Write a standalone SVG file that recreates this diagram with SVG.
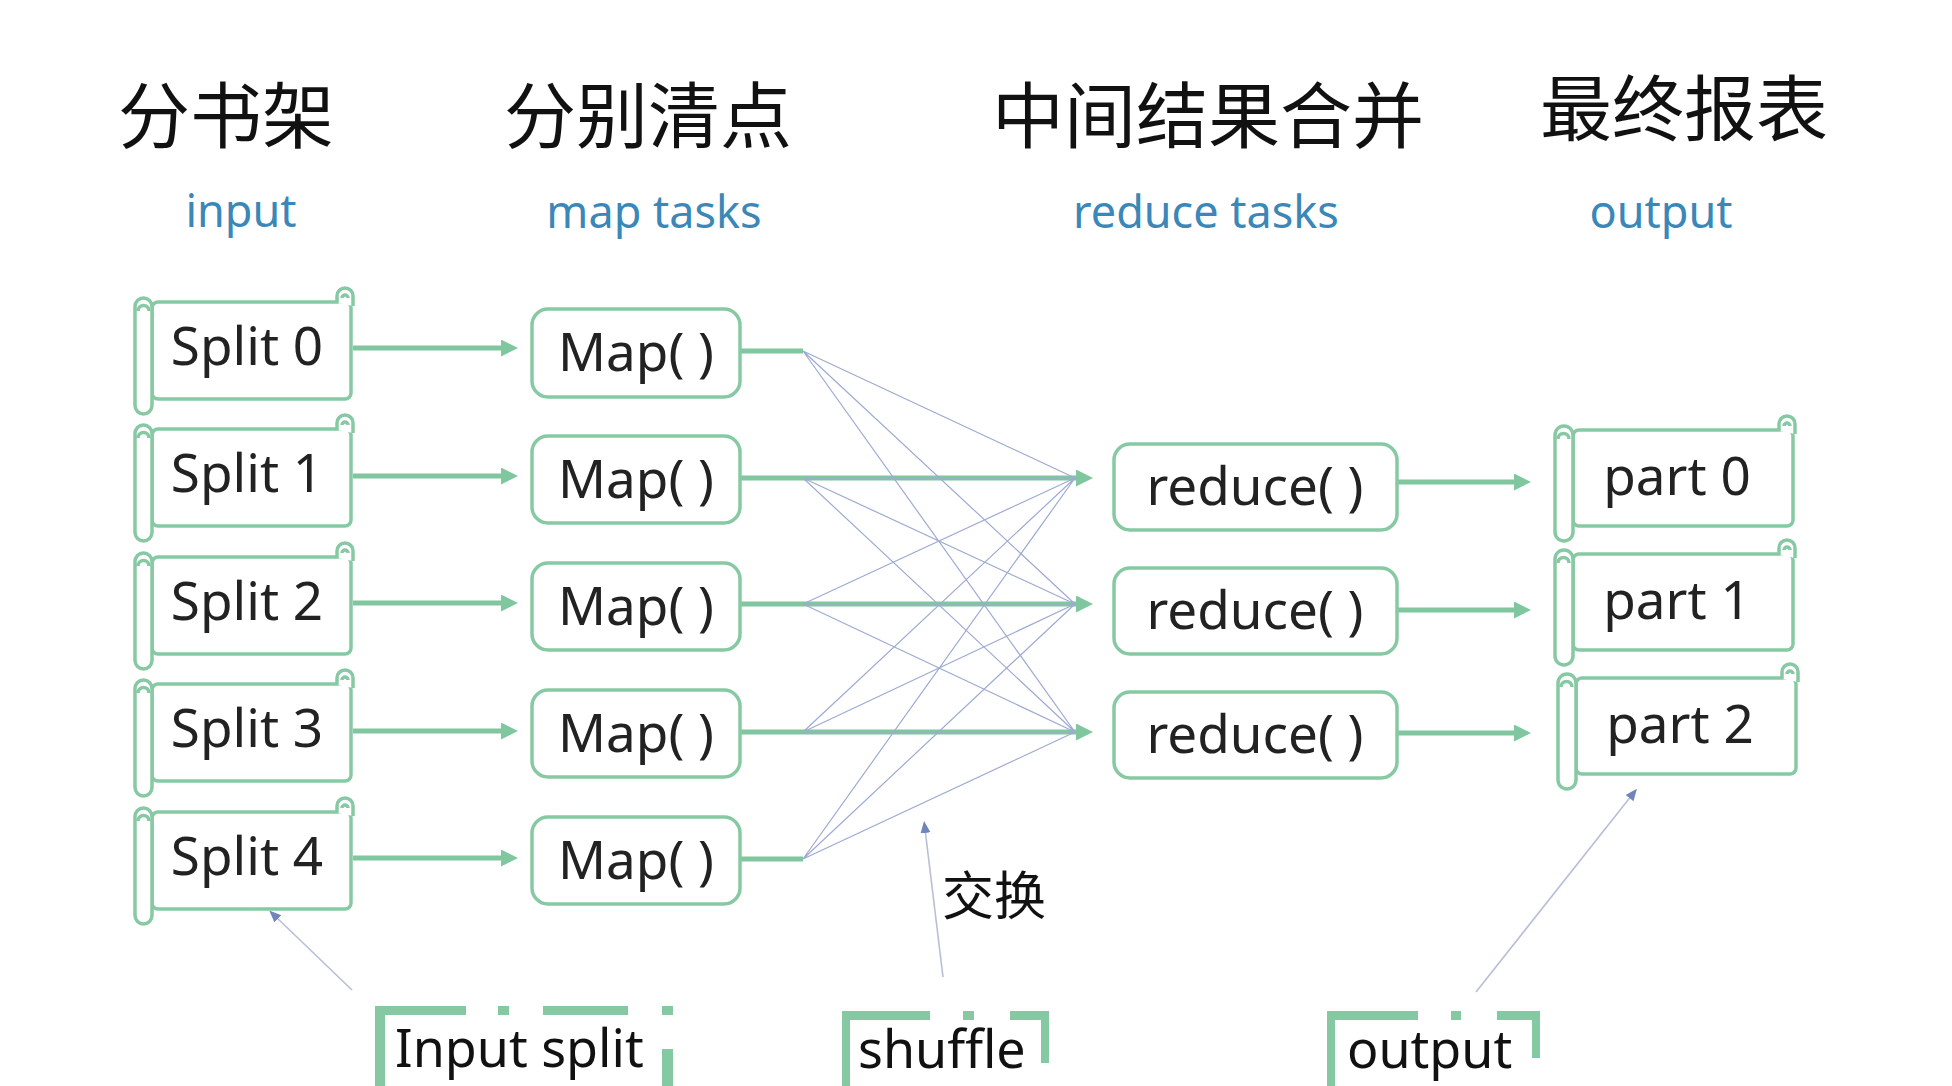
<svg xmlns="http://www.w3.org/2000/svg" xmlns:xlink="http://www.w3.org/1999/xlink" width="1952" height="1086" viewBox="0 0 1952 1086">
<style>
.bg{fill:#ffffff}
.box{fill:#ffffff;stroke:#86c9a3;stroke-width:3.5}
.line{fill:none;stroke:#86c9a3;stroke-width:3.5}
.lbl{font-family:"Noto Sans","Open Sans",sans-serif;font-size:53px;fill:#222222;text-anchor:middle}
.title{font-family:"Noto Sans CJK SC","Noto Sans CJK JP",sans-serif;font-size:72px;fill:#111111;text-anchor:middle}
.sub{font-family:"Noto Sans","Open Sans",sans-serif;font-size:45px;fill:#3a87b8;text-anchor:middle}
.flow{fill:none;stroke:#80c69e;stroke-width:5}
.thin{fill:none;stroke:#9eaad2;stroke-width:1.2}
.note{fill:none;stroke:#b9bed8;stroke-width:1.6}
.frame{fill:#84c9a2}
.btxt{font-family:"Noto Sans","Open Sans",sans-serif;font-size:52px;fill:#111111}
.cjk{font-family:"Noto Sans CJK SC","Noto Sans CJK JP",sans-serif;font-size:52px;fill:#111111}
</style>
<defs>
<marker id="ah" markerUnits="userSpaceOnUse" markerWidth="18" markerHeight="18" refX="7" refY="8.5" orient="auto">
<path d="M0,0 L17,8.5 L0,17 Z" fill="#80c69e"/>
</marker>
<marker id="ahs" markerUnits="userSpaceOnUse" markerWidth="14" markerHeight="12" refX="4" refY="5" orient="auto">
<path d="M0,0 L12,5 L0,10 Z" fill="#6f85bb"/>
</marker>
<g id="scrollS">
<rect class="box" x="0" y="0" width="199" height="97" rx="6"/>
<path class="box" d="M185,1 V-6 A8,8 0 0 1 201,-6 V4"/>
<path class="line" d="M190,-4 A3,3 0 0 1 196,-4"/>
<rect class="box" x="-17" y="-4" width="17" height="116" rx="8.5"/>
<path class="line" d="M-14,9 A5,5 0 0 1 -3,9"/>
</g>
<g id="scrollP">
<rect class="box" x="0" y="0" width="220" height="96" rx="6"/>
<path class="box" d="M206,1 V-6 A8,8 0 0 1 222,-6 V4"/>
<path class="line" d="M211,-4 A3,3 0 0 1 217,-4"/>
<rect class="box" x="-18" y="-4" width="18" height="115" rx="9"/>
<path class="line" d="M-15,9 A5,5 0 0 1 -4,9"/>
</g>
</defs>
<rect class="bg" x="0" y="0" width="1952" height="1086"/>

<g id="headers">
<text class="title" x="226" y="142">分书架</text>
<text class="title" x="648" y="142">分别清点</text>
<text class="title" x="1208" y="142">中间结果合并</text>
<text class="title" x="1684" y="135">最终报表</text>
<text class="sub" x="241" y="227">input</text>
<text class="sub" x="654" y="228">map tasks</text>
<text class="sub" x="1206" y="228">reduce tasks</text>
<text class="sub" x="1661" y="228">output</text>
</g>

<g id="connectors">
<line class="flow" x1="353" y1="348" x2="508" y2="348" marker-end="url(#ah)"/>
<line class="flow" x1="353" y1="476" x2="508" y2="476" marker-end="url(#ah)"/>
<line class="flow" x1="353" y1="603" x2="508" y2="603" marker-end="url(#ah)"/>
<line class="flow" x1="353" y1="731" x2="508" y2="731" marker-end="url(#ah)"/>
<line class="flow" x1="353" y1="858" x2="508" y2="858" marker-end="url(#ah)"/>
<line class="flow" x1="740" y1="351" x2="803" y2="351"/>
<line class="flow" x1="740" y1="859" x2="803" y2="859"/>
<line class="flow" x1="740" y1="478" x2="1083" y2="478" marker-end="url(#ah)"/>
<line class="flow" x1="740" y1="604" x2="1083" y2="604" marker-end="url(#ah)"/>
<line class="flow" x1="740" y1="732" x2="1083" y2="732" marker-end="url(#ah)"/>
<path class="thin" d="M803,351 L1075,478 M803,351 L1075,604 M803,351 L1075,732 M803,478 L1075,478 M803,478 L1075,604 M803,478 L1075,732 M803,604 L1075,478 M803,604 L1075,604 M803,604 L1075,732 M803,732 L1075,478 M803,732 L1075,604 M803,732 L1075,732 M803,859 L1075,478 M803,859 L1075,604 M803,859 L1075,732"/>
<line class="flow" x1="1397" y1="482" x2="1521" y2="482" marker-end="url(#ah)"/>
<line class="flow" x1="1397" y1="610" x2="1521" y2="610" marker-end="url(#ah)"/>
<line class="flow" x1="1397" y1="733" x2="1521" y2="733" marker-end="url(#ah)"/>
<line class="note" x1="352" y1="990" x2="275" y2="916" marker-end="url(#ahs)"/>
<line class="note" x1="943" y1="977" x2="925" y2="829" marker-end="url(#ahs)"/>
<line class="note" x1="1476" y1="992" x2="1632" y2="795" marker-end="url(#ahs)"/>
</g>

<g id="split0" transform="translate(152,302)"><use xlink:href="#scrollS" href="#scrollS"/><text class="lbl" x="95" y="63">Split 0</text></g>
<g id="split1" transform="translate(152,429)"><use xlink:href="#scrollS" href="#scrollS"/><text class="lbl" x="95" y="63">Split 1</text></g>
<g id="split2" transform="translate(152,557)"><use xlink:href="#scrollS" href="#scrollS"/><text class="lbl" x="95" y="63">Split 2</text></g>
<g id="split3" transform="translate(152,684)"><use xlink:href="#scrollS" href="#scrollS"/><text class="lbl" x="95" y="63">Split 3</text></g>
<g id="split4" transform="translate(152,812)"><use xlink:href="#scrollS" href="#scrollS"/><text class="lbl" x="95" y="63">Split 4</text></g>

<g id="map0"><rect class="box" x="532" y="309" width="208" height="88" rx="16"/><text class="lbl" x="636" y="371">Map( )</text></g>
<g id="map1"><rect class="box" x="532" y="436" width="208" height="87" rx="16"/><text class="lbl" x="636" y="498">Map( )</text></g>
<g id="map2"><rect class="box" x="532" y="563" width="208" height="87" rx="16"/><text class="lbl" x="636" y="625">Map( )</text></g>
<g id="map3"><rect class="box" x="532" y="690" width="208" height="87" rx="16"/><text class="lbl" x="636" y="752">Map( )</text></g>
<g id="map4"><rect class="box" x="532" y="817" width="208" height="87" rx="16"/><text class="lbl" x="636" y="879">Map( )</text></g>

<g id="reduce0"><rect class="box" x="1114" y="444" width="283" height="86" rx="16"/><text class="lbl" x="1255" y="505">reduce( )</text></g>
<g id="reduce1"><rect class="box" x="1114" y="568" width="283" height="86" rx="16"/><text class="lbl" x="1255" y="629">reduce( )</text></g>
<g id="reduce2"><rect class="box" x="1114" y="692" width="283" height="86" rx="16"/><text class="lbl" x="1255" y="753">reduce( )</text></g>

<g id="part0" transform="translate(1573,430)"><use xlink:href="#scrollP" href="#scrollP"/><text class="lbl" x="104" y="65">part 0</text></g>
<g id="part1" transform="translate(1573,554)"><use xlink:href="#scrollP" href="#scrollP"/><text class="lbl" x="104" y="65">part 1</text></g>
<g id="part2" transform="translate(1576,678)"><use xlink:href="#scrollP" href="#scrollP"/><text class="lbl" x="104" y="65">part 2</text></g>

<g id="label-exchange"><text class="cjk" x="942" y="915">交换</text></g>

<g id="label-input-split">
<rect class="frame" x="375" y="1006" width="91" height="9"/>
<rect class="frame" x="498" y="1006" width="11" height="9"/>
<rect class="frame" x="543" y="1006" width="85" height="9"/>
<rect class="frame" x="662" y="1006" width="11" height="9"/>
<rect class="frame" x="375" y="1006" width="10" height="80"/>
<rect class="frame" x="662" y="1049" width="11" height="37"/>
<text class="btxt" x="395" y="1067">Input split</text>
</g>
<g id="label-shuffle">
<rect class="frame" x="842" y="1011" width="88" height="9"/>
<rect class="frame" x="963" y="1011" width="11" height="9"/>
<rect class="frame" x="1010" y="1011" width="39" height="9"/>
<rect class="frame" x="842" y="1011" width="8" height="75"/>
<rect class="frame" x="1041" y="1011" width="8" height="52"/>
<text class="btxt" x="858" y="1068">shuffle</text>
</g>
<g id="label-output">
<rect class="frame" x="1327" y="1011" width="91" height="9"/>
<rect class="frame" x="1451" y="1011" width="10" height="9"/>
<rect class="frame" x="1497" y="1011" width="43" height="9"/>
<rect class="frame" x="1327" y="1011" width="8" height="75"/>
<rect class="frame" x="1532" y="1011" width="8" height="47"/>
<text class="btxt" x="1347" y="1068">output</text>
</g>
</svg>
